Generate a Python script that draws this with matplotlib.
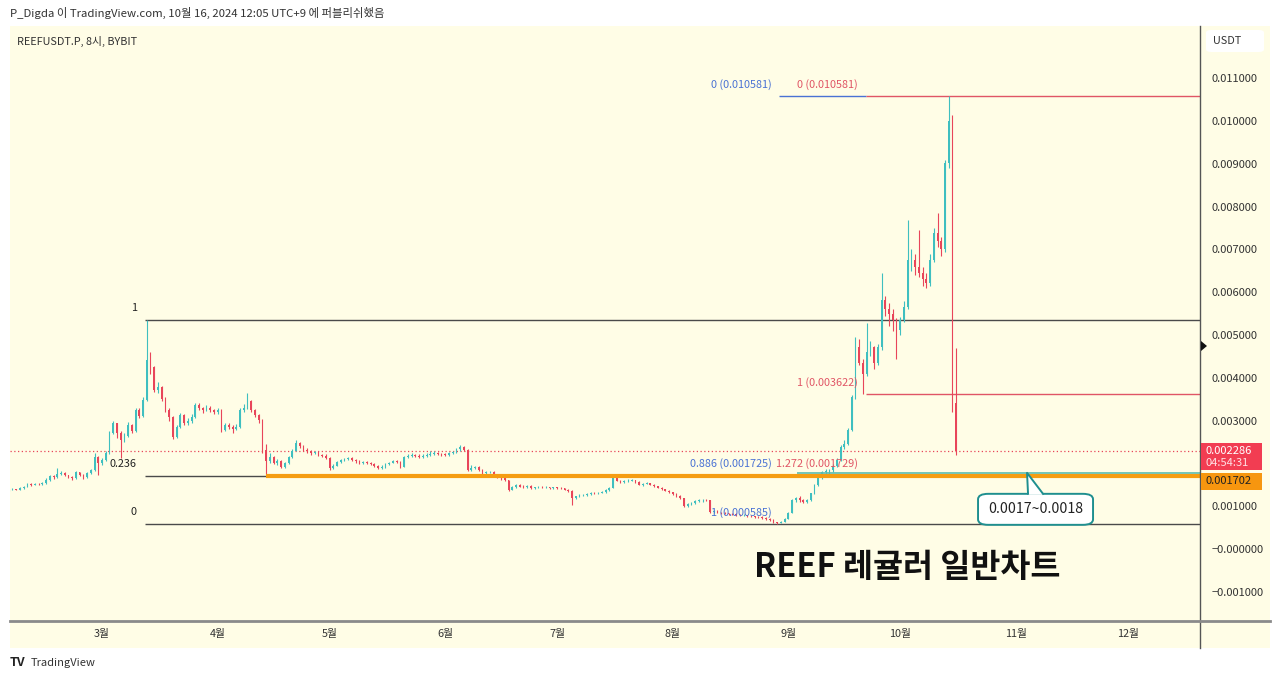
import matplotlib
matplotlib.use('Agg')
import matplotlib.pyplot as plt
import matplotlib.dates as mdates
from matplotlib.patches import Rectangle, FancyBboxPatch, Polygon
from matplotlib.lines import Line2D
import numpy as np
from datetime import datetime, timedelta

plt.rcParams['font.family'] = ['Noto Sans CJK KR', 'DejaVu Sans']

# ---------------- data (prices in 1e-6 USDT, daily candles) ----------------
start_date = datetime(2024, 2, 5)
first_open = 1370
closes = [
    1380,1400,1390,1420,1450,1520,1500,1530,1510,1540,
    1620,1700,1680,1760,1780,1720,1680,1650,1800,1740,
    1680,1780,1850,2150,2000,2080,2240,2710,2940,2700,
    2550,2650,2900,2750,3250,3100,3480,4420,4250,3710,
    3780,3500,3250,3080,2620,2850,3130,2940,3000,3080,
    3360,3300,3250,3300,3250,3200,3250,2780,2900,2850,
    2800,2850,3250,3300,3450,3250,3130,3010,2310,2050,
    2150,2010,2050,1920,2000,2150,2300,2480,2400,2310,
    2280,2240,2260,2200,2180,2130,1900,1950,2030,2080,
    2100,2130,2080,2050,2010,2030,2010,1980,1950,1890,
    1920,1980,2010,2050,2030,1920,2150,2180,2200,2180,
    2150,2180,2200,2220,2240,2220,2210,2200,2240,2270,
    2330,2380,2310,1850,1900,1920,1850,1780,1800,1800,
    1720,1680,1650,1610,1380,1450,1500,1460,1450,1470,
    1430,1440,1460,1450,1450,1430,1440,1430,1420,1380,
    1360,1190,1230,1260,1270,1290,1310,1300,1320,1330,
    1380,1430,1660,1600,1570,1590,1600,1610,1560,1500,
    1530,1540,1500,1470,1430,1400,1360,1330,1280,1240,
    1190,1000,1050,1080,1120,1140,1150,1140,860,880,
    850,840,830,820,810,800,790,790,770,760,
    750,740,720,700,680,620,610,630,700,840,
    1140,1190,1150,1100,1140,1300,1500,1660,1800,1820,
    1850,1950,2080,2380,2450,2780,3550,4720,4350,4100,
    4600,4720,4350,4720,5820,5600,5500,5350,5120,5350,
    5650,6750,6750,6590,6450,6300,6210,6750,7380,7200,
    7000,9020,10000,3400,2286,
]
highs = [
    1400,1420,1410,1440,1470,1540,1540,1550,1540,1570,
    1650,1730,1720,1890,1820,1790,1740,1700,1830,1810,
    1760,1800,1880,2240,2170,2120,2280,2760,3000,2950,
    2760,2700,2960,2930,3300,3300,3550,5350,4600,4280,
    3900,3820,3560,3300,3100,2900,3180,3150,3050,3150,
    3420,3400,3320,3360,3330,3280,3300,3270,2950,2950,
    2900,2920,3300,3380,3640,3480,3280,3150,3030,2450,
    2250,2180,2100,2080,2040,2180,2330,2550,2500,2420,
    2350,2310,2300,2280,2230,2210,2150,1990,2060,2110,
    2130,2160,2150,2100,2070,2060,2050,2030,2000,1970,
    1960,2010,2040,2080,2070,2050,2170,2220,2240,2230,
    2220,2210,2250,2280,2290,2260,2250,2240,2270,2300,
    2360,2440,2400,2330,1960,1950,1940,1870,1820,1830,
    1820,1740,1700,1670,1620,1470,1520,1520,1490,1490,
    1490,1460,1480,1480,1470,1460,1460,1460,1450,1430,
    1400,1370,1250,1280,1290,1310,1330,1330,1340,1350,
    1400,1450,1680,1670,1620,1610,1630,1640,1620,1580,
    1550,1570,1550,1510,1480,1450,1410,1380,1340,1300,
    1260,1200,1070,1100,1140,1160,1170,1170,1150,900,
    900,870,860,850,840,830,820,810,800,790,
    780,770,760,740,720,700,640,650,720,860,
    1160,1220,1230,1170,1170,1320,1520,1680,1830,1870,
    1880,1990,2120,2420,2550,2820,3600,4950,4900,4450,
    5280,4850,4750,4800,6450,5900,5750,5600,5400,5420,
    5800,7690,7000,6900,7450,6600,6450,6900,7500,7850,
    7300,9100,10581,10150,4700,
]
lows = [
    1350,1370,1370,1380,1410,1440,1480,1490,1490,1500,
    1530,1600,1640,1660,1720,1700,1650,1620,1640,1710,
    1640,1660,1760,1830,1730,1960,2050,2220,2680,2600,
    2130,2500,2620,2700,2730,3050,3080,3450,4100,3680,
    3650,3450,3200,3000,2580,2600,2820,2900,2900,2950,
    3050,3250,3180,3220,3200,3150,3150,2740,2750,2800,
    2720,2770,2830,3200,3260,3200,3080,2950,2250,1730,
    2000,1980,1960,1900,1900,1980,2120,2280,2350,2280,
    2250,2200,2210,2170,2150,2100,1850,1880,1930,2010,
    2050,2080,2060,2020,1990,1990,1980,1960,1920,1870,
    1860,1900,1960,2000,2000,1900,1910,2120,2150,2150,
    2120,2130,2160,2180,2190,2190,2180,2170,2180,2220,
    2250,2300,2280,1830,1820,1860,1830,1760,1750,1770,
    1700,1650,1620,1580,1360,1370,1430,1440,1430,1430,
    1410,1410,1430,1430,1420,1410,1410,1410,1400,1370,
    1340,1030,1170,1210,1240,1250,1270,1280,1290,1300,
    1310,1360,1420,1580,1550,1550,1570,1580,1550,1490,
    1480,1510,1490,1450,1420,1390,1350,1320,1260,1220,
    1170,970,990,1030,1060,1100,1110,1120,840,840,
    830,820,810,800,790,780,770,770,750,740,
    730,720,700,680,650,600,585,600,620,690,
    830,1100,1110,1080,1080,1130,1280,1480,1640,1720,
    1720,1800,1920,2050,2340,2420,2750,3500,4300,3622,
    4050,4500,4200,4300,4650,5450,5200,5100,4440,5000,
    5300,5600,6500,6400,6350,6150,6100,6150,6700,7050,
    6850,6950,8900,3200,2200,
]
price_scale = 1e-6

month_ticks = [datetime(2024, m, 1) for m in range(3, 13)]
month_labels = ['3월', '4월', '5월', '6월', '7월', '8월', '9월', '10월', '11월', '12월']
price_ticks = [0.011, 0.010, 0.009, 0.008, 0.007, 0.006, 0.005, 0.004, 0.003, 0.001, 0.0, -0.001]
price_tick_labels = ['0.011000', '0.010000', '0.009000', '0.008000', '0.007000', '0.006000',
                     '0.005000', '0.004000', '0.003000', '0.001000', '−0.000000', '−0.001000']

left_fib_levels = [('1', 0.005350), ('0.236', 0.001710), ('0', 0.000585)]
blue_fib_levels = [('0 (0.010581)', 0.010581), ('0.886 (0.001725)', 0.001725), ('1 (0.000585)', 0.000585)]
red_fib_levels = [('0 (0.010581)', 0.010581), ('1 (0.003622)', 0.003622), ('1.272 (0.001729)', 0.001729)]
orange_level = 0.001702
teal_level = 0.00178
last_price = 0.002286
countdown = '04:54:31'
zone_text = '0.0017~0.0018'
title_text = 'REEF 레귤러 일반차트'

left_fib_start = datetime(2024, 3, 12, 13)
orange_start = datetime(2024, 4, 14)
blue_fib_start = datetime(2024, 8, 29, 12)
red_fib_start = datetime(2024, 9, 21, 19)
teal_start = datetime(2024, 9, 3, 7)
callout_anchor = datetime(2024, 11, 4)

# ---------------- colours ----------------
CREAM = '#fffde6'
UP = '#3fbfc0'
DOWN = '#e8455a'
FIB_BLUE = '#4a72d4'
FIB_RED = '#e05566'
ORANGE = '#f59d12'
TEAL = '#5cbcae'

# ---------------- figure ----------------
W, H = 1280, 681
fig = plt.figure(figsize=(W / 100, H / 100), dpi=100, facecolor='white')

def fx(px):
    return px / W

def fy(py):
    return 1 - py / H

# chart background (plot + axis strips)
fig.add_artist(Rectangle((fx(10), fy(648)), fx(1270) - fx(10), fy(26) - fy(648),
                         transform=fig.transFigure, facecolor=CREAM, edgecolor='none', zorder=0))

ax = fig.add_axes([fx(10), fy(621), fx(1200) - fx(10), fy(26) - fy(621)])
ax.set_facecolor(CREAM)
for s in ax.spines.values():
    s.set_visible(False)

mar1 = mdates.date2num(datetime(2024, 3, 1))
px_per_day = 3.73
ax.set_xlim(mar1 - 92 / px_per_day, mar1 + 1098 / px_per_day)
ax.set_ylim(-0.001682, 0.012220)

# candles
n = len(closes)
xd = mdates.date2num([start_date + timedelta(days=i) for i in range(n)])
c = np.array(closes, float) * price_scale
o = np.concatenate([[first_open], closes[:-1]]).astype(float) * price_scale
h = np.maximum(np.array(highs, float) * price_scale, np.maximum(o, c))
l = np.minimum(np.array(lows, float) * price_scale, np.minimum(o, c))
cols = [UP if ci >= oi else DOWN for oi, ci in zip(o, c)]
ax.vlines(xd, l, h, colors=cols, linewidth=0.8, zorder=3)
body_bot = np.minimum(o, c)
body_h = np.maximum(np.abs(c - o), 0.000008)
ax.bar(xd, body_h, bottom=body_bot, width=0.45, color=cols, edgecolor='none', zorder=3)

x_end = ax.get_xlim()[1]

# current price dotted line
ax.axhline(last_price, color=DOWN, linestyle=(0, (1, 2)), linewidth=0.9, zorder=2)

# left fib
lf0 = mdates.date2num(left_fib_start)
for lab, lv in left_fib_levels:
    ax.hlines(lv, lf0, x_end, colors='#4a4a4a', linewidth=1.0, zorder=2)
    ax.annotate(lab, xy=(lf0, lv), xytext=(-6, 8.5), textcoords='offset points',
                ha='right', va='center', fontsize=7.8, color='#222222')

# orange level
ax.hlines(orange_level, mdates.date2num(orange_start), x_end, colors=ORANGE, linewidth=3, zorder=4)

# blue fib
bf0 = mdates.date2num(blue_fib_start)
rf0 = mdates.date2num(red_fib_start)
ax.hlines(blue_fib_levels[0][1], bf0, rf0, colors=FIB_BLUE, linewidth=1.0, zorder=2)
for lab, lv in blue_fib_levels:
    ax.annotate(lab, xy=(bf0, lv), xytext=(-5, 8.5), textcoords='offset points',
                ha='right', va='center', fontsize=7.8, color=FIB_BLUE)

# red fib
for lab, lv in red_fib_levels:
    ax.hlines(lv, rf0, x_end, colors=FIB_RED, linewidth=1.0, zorder=2)
    ax.annotate(lab, xy=(rf0, lv), xytext=(-5.5, 8.5), textcoords='offset points',
                ha='right', va='center', fontsize=7.8, color=FIB_RED)

# teal ray
ax.hlines(teal_level, mdates.date2num(teal_start), x_end, colors=TEAL, linewidth=1.2, zorder=4)

# axes ticks
ax.set_xticks(mdates.date2num(month_ticks))
ax.set_xticklabels(month_labels)
ax.tick_params(axis='x', length=0, pad=6, labelsize=7.8, labelcolor='#333333')
ax.yaxis.tick_right()
ax.set_yticks(price_ticks)
ax.set_yticklabels(price_tick_labels)
ax.tick_params(axis='y', length=0, pad=8.5, labelsize=8, labelcolor='#333333')

# separator lines
fig.add_artist(Line2D([fx(1200), fx(1200)], [fy(26), fy(648)], transform=fig.transFigure,
                      color='#555555', linewidth=1.0, zorder=5))
fig.add_artist(Line2D([fx(10), fx(1270)], [fy(621), fy(621)], transform=fig.transFigure,
                      color='#8a8a8a', linewidth=2.0, zorder=5))

# axis price labels
fig.canvas.draw()
def data_to_fig(xv, yv):
    d = ax.transData.transform((xv, yv))
    return d[0] / W, d[1] / H

_, y_last = data_to_fig(x_end, last_price)
box_h1 = 27 / H
fig.add_artist(Rectangle((fx(1201), y_last - (19 / H)), fx(1262) - fx(1201), box_h1,
                         transform=fig.transFigure, facecolor='#f23d52', edgecolor='none', zorder=6))
fig.text(fx(1205), y_last, f'{last_price:.6f}', transform=fig.transFigure, color='white',
         fontsize=8, va='center', ha='left', zorder=7)
fig.text(fx(1205), y_last - 12 / H, countdown, transform=fig.transFigure, color='#ffe0e4',
         fontsize=8, va='center', ha='left', zorder=7)
fig.add_artist(Rectangle((fx(1201), fy(490)), fx(1262) - fx(1201), 17 / H,
                         transform=fig.transFigure, facecolor='#f7960f', edgecolor='none', zorder=6))
fig.text(fx(1205), fy(481.5), f'{orange_level:.6f}', transform=fig.transFigure, color='#222222',
         fontsize=8, va='center', ha='left', zorder=7)

# small black marker on axis
fig.add_artist(Polygon([[fx(1201), fy(341)], [fx(1207), fy(346)], [fx(1201), fy(351)]],
                       closed=True, transform=fig.transFigure, facecolor='#111111',
                       edgecolor='none', zorder=7))

# USDT box
fig.add_artist(FancyBboxPatch((fx(1206), fy(52)), fx(1264) - fx(1206), 22 / H,
                              boxstyle='round,pad=0,rounding_size=0.004', transform=fig.transFigure,
                              facecolor='white', edgecolor='none', zorder=6))
fig.text(fx(1213), fy(41), 'USDT', transform=fig.transFigure, fontsize=7.8, color='#333333',
         va='center', ha='left', zorder=7)

# callout
axf, ayf = data_to_fig(mdates.date2num(callout_anchor), teal_level)
apx, apy = axf * W, (1 - ayf) * H  # pixel coords from top
bx0, bx1 = apx - 49, apx + 66
by0, by1 = apy + 21, apy + 52
fig.add_artist(FancyBboxPatch((fx(bx0), fy(by1)), fx(bx1) - fx(bx0), fy(by0) - fy(by1),
                              boxstyle='round,pad=0,rounding_size=0.008', transform=fig.transFigure,
                              facecolor='white', edgecolor='#1f8f8f', linewidth=1.4, zorder=8))
fig.add_artist(Polygon([[fx(apx + 1), fy(by0 + 1)], [fx(apx), fy(apy)], [fx(apx + 16), fy(by0 + 1)]],
                       closed=True, transform=fig.transFigure, facecolor='white',
                       edgecolor='none', zorder=9))
fig.add_artist(Line2D([fx(apx + 1), fx(apx), fx(apx + 16)], [fy(by0), fy(apy), fy(by0)],
                      transform=fig.transFigure, color='#1f8f8f', linewidth=1.4, zorder=9))
fig.text(fx((bx0 + bx1) / 2), fy((by0 + by1) / 2), zone_text, transform=fig.transFigure,
         fontsize=10.2, fontweight='medium', color='#222222', ha='center', va='center', zorder=10)

# texts
fig.text(fx(10), fy(13), 'P_Digda 이 TradingView.com, 10월 16, 2024 12:05 UTC+9 에 퍼블리쉬했음',
         fontsize=8.2, color='#333333', ha='left', va='center')
fig.text(fx(17), fy(41), 'REEFUSDT.P, 8시, BYBIT', fontsize=7.8, color='#333333',
         ha='left', va='center', zorder=7)
fig.text(fx(907), fy(567), title_text, fontsize=23.5, fontweight='bold', color='#111111',
         ha='center', va='center', zorder=10)
fig.text(fx(10), fy(663), 'TV', fontsize=9, fontweight='bold', color='#222222',
         ha='left', va='center')
fig.text(fx(31), fy(663), 'TradingView', fontsize=8, color='#333333', ha='left', va='center')

fig.savefig('out.png', dpi=100, facecolor='white')
